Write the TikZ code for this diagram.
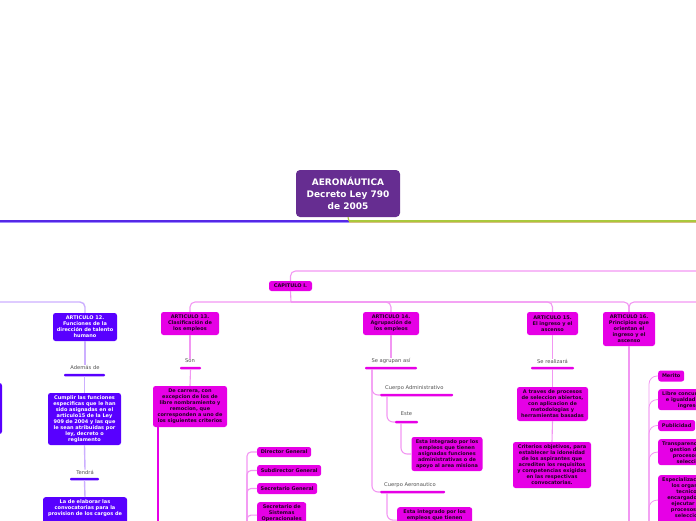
\documentclass[tikz,border=0pt]{standalone}
\usepackage{fontspec}
\setmainfont{DejaVu Sans}
\definecolor{rootc}{RGB}{102,45,145}
\definecolor{vio}{RGB}{88,0,255}
\definecolor{mag}{RGB}{230,0,230}
\definecolor{dtext}{RGB}{35,0,35}
\definecolor{lgrey}{RGB}{80,80,80}
\definecolor{lav}{RGB}{204,175,255}
\definecolor{pk}{RGB}{242,150,242}
\definecolor{blu}{RGB}{85,40,230}
\definecolor{blu2}{RGB}{160,140,255}
\definecolor{grn}{RGB}{170,200,60}
\definecolor{tan}{RGB}{215,190,130}
\begin{document}
\begin{tikzpicture}[x=1pt,y=-1pt,
  every node/.style={font=\fontsize{5}{6}\selectfont\bfseries, inner sep=0pt, align=center},
  rootbox/.style={fill=rootc, text=white, font=\fontsize{9}{12}\selectfont\bfseries, rounded corners=4pt},
  mbox/.style={fill=mag, text=dtext, rounded corners=2.5pt},
  vbox/.style={fill=vio, text=white, rounded corners=2.5pt},
  lbl/.style={font=\fontsize{5.2}{6}\selectfont, text=lgrey},
  mbar/.style={fill=mag, minimum height=2.5pt, rounded corners=1pt},
  vbar/.style={fill=vio, minimum height=2.5pt, rounded corners=1pt},
  pline/.style={draw=pk, line width=1.1pt},
  mline/.style={draw=mag, line width=1.3pt},
  lline/.style={draw=lav, line width=1.4pt}
]
\useasboundingbox (0,0) rectangle (696,520);
\clip (0,0) rectangle (696,520);

% root
\node[rootbox, minimum width=104pt, minimum height=47pt] (root) at (348,193.5) {AERONÁUTICA\\Decreto Ley 790\\de 2005};
\coordinate (rj) at (349,221);
\coordinate (rl) at (0,221);
\coordinate (rr) at (696,221);
\coordinate (rl2) at (0,222.5);
\coordinate (rj2) at (349,222.5);
\coordinate (rr2) at (696,222.5);
\draw[blu2, line width=0.8pt] (rl2) -- (rj2);
\draw[tan, line width=0.8pt] (rj2) -- (rr2);
\draw[blu, line width=1.2pt] (rl) -- (rj);
\draw[grn, line width=1.2pt] (rj) -- (rr);
\draw[grn, line width=1.2pt] (root.south) -- (rj);

% chapter
\node[mbox, minimum width=43pt, minimum height=10pt] (cap) at (290.5,286) {CAPITULO I.};
\coordinate (tr) at (700,271);
\coordinate (hub) at (291,302);
\coordinate (hr) at (700,302);
\coordinate (hl) at (-2,302);
\draw[pline, rounded corners=5pt] (cap.north) |- (tr);
\draw[pline] (cap.south) -- (hub);

% articles
\node[vbox, minimum width=64pt, minimum height=28pt] (a12) at (85,327) {ARTICULO 12.\\Funciones de la\\dirección de talento\\humano};
\node[mbox, minimum width=58pt, minimum height=23pt] (a13) at (190,323.5) {ARTICULO 13.\\Clasificación de\\los empleos};
\node[mbox, minimum width=56pt, minimum height=23pt] (a14) at (391,323.5) {ARTICULO 14.\\Agrupación de\\los empleos};
\node[mbox, minimum width=51pt, minimum height=23pt] (a15) at (552.5,323.5) {ARTICULO 15.\\El ingreso y el\\ascenso};
\node[mbox, minimum width=52pt, minimum height=34pt] (a16) at (629,329) {ARTICULO 16.\\Principios que\\orientan el\\ingreso y el\\ascenso};

\draw[lline, rounded corners=5pt] (a12.north) |- (hl);
\draw[pline, rounded corners=5pt] (a13.north) |- (hub);
\draw[pline, rounded corners=5pt] (a14.north) |- (hub);
\draw[pline, rounded corners=5pt] (a15.north) |- (hub);
\draw[pline, rounded corners=5pt] (a16.north) |- (hub);
\draw[pline, rounded corners=5pt] (a16.north) |- (hr);

% left partial node
\node[vbox, minimum width=12pt, minimum height=51pt] (lft) at (-4,408.5) {};

% article 12 branch
\node[lbl] (l12a) at (85,367) {Además de};
\node[vbar, minimum width=41pt] (b12a) at (84.5,375) {};
\node[vbox, minimum width=73pt, minimum height=52pt] (cum) at (84.5,419) {Cumplir las funciones\\especificas que le han\\sido asignadas en el\\articulo15 de la Ley\\909 de 2004 y las que\\le sean atribuidas por\\ley, decreto o\\reglamento};
\node[lbl] (l12b) at (85,472) {Tendrá};
\node[vbar, minimum width=29pt] (b12b) at (84.5,479) {};
\node[vbox, anchor=north, minimum width=84pt, inner ysep=2pt] (ela) at (85,497) {La de elaborar las\\convocatorias para la\\provision de los cargos de\\\mbox{}\\\mbox{}};
\draw[lline] (a12.south) -- (l12a.north);
\draw[lline] (b12a.south) -- (cum.north);
\draw[lline] (cum.south) -- (l12b.north);
\draw[lline] (b12b.south) -- (ela.north);

% article 13 branch
\node[lbl] (l13) at (190,361) {Son};
\node[mbar, minimum width=21pt] (b13) at (190.5,368) {};
\node[mbox, minimum width=74pt, minimum height=41pt] (dc) at (190,406.5) {De carrera, con\\excepcion de los de\\libre nombramiento y\\remocion, que\\corresponden a uno de\\los siguientes criterios};
\draw[pline] (a13.south) -- (l13.north);
\draw[pline] (b13.south) -- (dc.north);
\coordinate (dc1) at (158,427);
\coordinate (dc2) at (158,530);
\draw[mline] (dc1) -- (dc2);

\node[mbox, anchor=west, minimum width=54pt, minimum height=10pt] (dir) at (257,452) {Director General};
\node[mbox, anchor=west, minimum width=64pt, minimum height=11pt] (sub) at (257,470.5) {Subdirector General};
\node[mbox, anchor=west, minimum width=60pt, minimum height=11pt] (sg) at (257,488.5) {Secretario General};
\node[mbox, anchor=north west, minimum width=49pt, inner ysep=2pt] (ss) at (257,502) {Secretario de\\Sistemas\\Operacionales\\\mbox{}};
\coordinate (bk) at (247,530);
\draw[pline, rounded corners=4pt] (dir.west) -| (bk);
\draw[pline, rounded corners=4pt] (sub.west) -| (bk);
\draw[pline, rounded corners=4pt] (sg.west) -| (bk);
\draw[pline, rounded corners=4pt] (ss.west) -| (bk);

% article 14 branch
\node[lbl] (l14) at (391,361) {Se agrupan así};
\node[mbar, minimum width=52pt] (b14) at (391,368) {};
\draw[pline] (a14.south) -- (l14.north);
\node[lbl, anchor=west] (lca) at (385,388) {Cuerpo Administrativo};
\node[mbar, anchor=west, minimum width=73pt] (bca) at (380,395) {};
\node[lbl] (les) at (406.5,414) {Este};
\node[mbar, minimum width=23pt] (bes) at (406.5,422) {};
\node[mbox, minimum width=71pt, minimum height=34pt] (e1) at (447,454) {Esta integrado por los\\empleos que tienen\\asignadas funciones\\administrativas o de\\apoyo al area misiona};
\node[lbl, anchor=west] (lae) at (384,485) {Cuerpo Aeronautico};
\node[mbar, anchor=west, minimum width=65pt] (bae) at (380,492) {};
\node[mbox, anchor=north west, minimum width=75pt, inner ysep=2pt] (e2) at (397,507) {Esta integrado por los\\empleos que tienen\\\mbox{}\\\mbox{}};
\coordinate (s14) at (372,369);
\coordinate (sca) at (387,396);
\coordinate (ses) at (401,423);
\coordinate (sae) at (387,493);
\draw[pline, rounded corners=6pt] (s14) |- (bca.west);
\draw[pline, rounded corners=6pt] (s14) |- (bae.west);
\draw[pline, rounded corners=6pt] (sca) |- (bes.west);
\draw[pline, rounded corners=6pt] (ses) |- (e1.west);
\draw[pline, rounded corners=6pt] (sae) |- (e2.west);

% article 15 branch
\node[lbl] (l15) at (552.5,361) {Se realizará};
\node[mbar, minimum width=43pt] (b15) at (552.5,368) {};
\node[mbox, minimum width=71pt, minimum height=34pt] (tra) at (552.5,404) {A traves de procesos\\de seleccion abiertos,\\con aplicacion de\\metodologias y\\herramientas basadas};
\node[mbox, minimum width=78pt, minimum height=46pt] (cri) at (552,465) {Criterios objetivos, para\\establecer la idoneidad\\de los aspirantes que\\acrediten los requisitos\\y competencias exigidos\\en las respectivas\\convocatorias.};
\draw[pline] (a15.south) -- (l15.north);
\draw[pline] (b15.south) -- (tra.north);
\draw[pline] (tra.south) -- (cri.north);

% article 16 branch
\coordinate (v16) at (629,530);
\draw[pline] (a16.south) -- (v16);
\node[mbox, anchor=west, minimum width=26pt, minimum height=11pt] (mer) at (658,376) {Merito};
\node[mbox, anchor=north west, inner xsep=4pt, inner ysep=2pt] (lib) at (658,389) {Libre concurrencia\\e igualdad en el\\ingreso};
\node[mbox, anchor=west, minimum width=37pt, minimum height=11pt] (pub) at (658,425.5) {Publicidad};
\node[mbox, anchor=north west, inner xsep=4pt, inner ysep=2pt] (tsp) at (658,439) {Transparencia en la\\gestion de los\\procesos de\\seleccion};
\node[mbox, anchor=north west, inner xsep=4pt, inner ysep=2pt] (esp) at (658,475) {Especializacion de\\los organos\\tecnicos\\encargados de\\ejecutar los\\procesos de\\seleccion\\\mbox{}};
\coordinate (rb) at (649,530);
\draw[pline, line width=0.8pt, rounded corners=8pt] (mer.west) -| (rb);
\draw[pline, line width=0.8pt, rounded corners=8pt] (lib.west) -| (rb);
\draw[pline, line width=0.8pt, rounded corners=8pt] (pub.west) -| (rb);
\draw[pline, line width=0.8pt, rounded corners=8pt] (tsp.west) -| (rb);
\draw[pline, line width=0.8pt, rounded corners=8pt] (esp.west) -| (rb);
\end{tikzpicture}
\end{document}
